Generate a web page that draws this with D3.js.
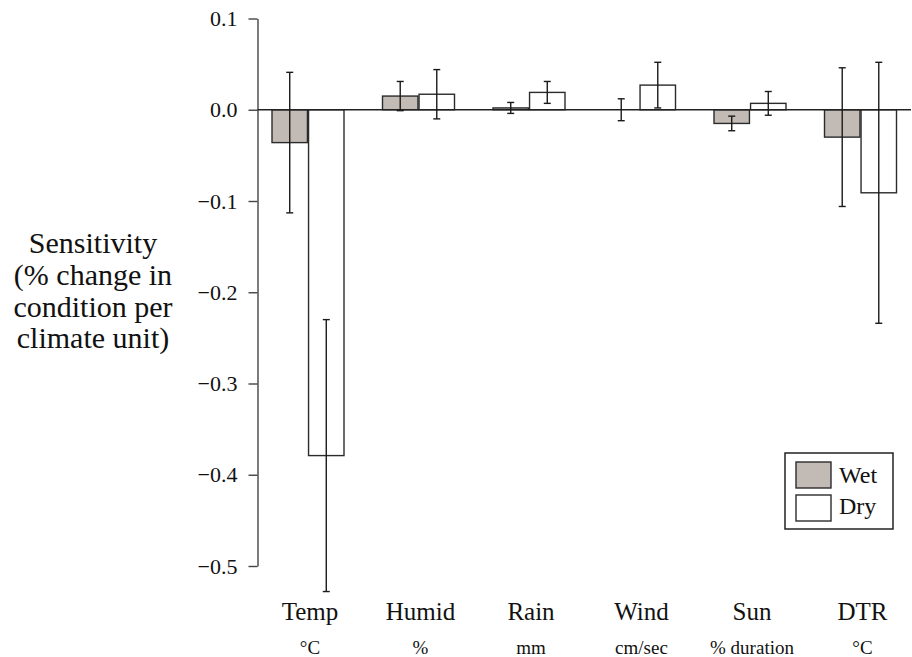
<!DOCTYPE html>
<html>
<head>
<meta charset="utf-8">
<script src="https://cdn.jsdelivr.net/npm/d3@7/dist/d3.min.js"></script>
<style>
  html, body { margin: 0; padding: 0; background: #fff; }
</style>
</head>
<body>
<svg id="chart" width="912" height="657"></svg>
<script>
// Climate variables and their units
const categories = ["Temp", "Humid", "Rain", "Wind", "Sun", "DTR"];
const units = ["\u00B0C", "%", "mm", "cm/sec", "% duration", "\u00B0C"];

// Sensitivity (% change in condition per climate unit) with error half-widths
const wetValues = [-0.036, 0.015, 0.002, 0.000, -0.015, -0.030];
const wetErrors = [0.077, 0.016, 0.006, 0.012, 0.008, 0.076];
const dryValues = [-0.379, 0.017, 0.019, 0.027, 0.007, -0.091];
const dryErrors = [0.149, 0.027, 0.012, 0.025, 0.013, 0.143];

const seriesNames = ["Wet", "Dry"];
const yTicks = [0.1, 0.0, -0.1, -0.2, -0.3, -0.4, -0.5];
const titleLines = ["Sensitivity", "(% change in", "condition per", "climate unit)"];

const serif = "'Liberation Serif'";
const svg = d3.select("#chart");

const y = d3.scaleLinear().domain([-0.5, 0.1]).range([566, 18.5]);
const x = d3.scaleBand().domain(categories).range([252.75, 915.75]).padding(0);
const xSub = d3.scaleBand().domain(seriesNames).range([-36, 36]).paddingInner(0.03);

const fills = { Wet: "#c2bab5", Dry: "#ffffff" };
const stroke = "#2b2b2b";

const rows = [];
categories.forEach((c, i) => {
  rows.push({ cat: c, series: "Wet", value: wetValues[i], err: wetErrors[i] });
  rows.push({ cat: c, series: "Dry", value: dryValues[i], err: dryErrors[i] });
});

// Y axis
const yAxis = d3.axisLeft(y)
  .tickValues(yTicks)
  .tickSize(9)
  .tickSizeOuter(0)
  .tickPadding(11)
  .tickFormat(d3.format(".1f"));

const gy = svg.append("g")
  .attr("transform", "translate(257.5,0)")
  .call(yAxis);
gy.select(".domain").attr("stroke", "#444").attr("stroke-width", 1.4);
gy.selectAll(".tick line").attr("stroke", "#444").attr("stroke-width", 1.4);
gy.selectAll(".tick text")
  .attr("fill", "#111")
  .style("font-family", serif)
  .style("font-size", "22px");

// Bars
svg.append("g").selectAll("rect")
  .data(rows)
  .join("rect")
  .attr("x", d => x(d.cat) + x.bandwidth() / 2 + xSub(d.series))
  .attr("width", xSub.bandwidth())
  .attr("y", d => Math.min(y(d.value), y(0)))
  .attr("height", d => Math.abs(y(d.value) - y(0)))
  .attr("fill", d => fills[d.series])
  .attr("stroke", stroke)
  .attr("stroke-width", 1.4);

// Zero line
svg.append("line")
  .attr("x1", 257.5).attr("x2", 911)
  .attr("y1", y(0)).attr("y2", y(0))
  .attr("stroke", "#222").attr("stroke-width", 1.5);

// Error bars
const eb = svg.append("g").attr("stroke", "#1a1a1a").attr("stroke-width", 1.4);
const cx = d => x(d.cat) + x.bandwidth() / 2 + xSub(d.series) + xSub.bandwidth() / 2;
eb.selectAll(".stem").data(rows).join("line")
  .attr("x1", cx).attr("x2", cx)
  .attr("y1", d => y(d.value + d.err)).attr("y2", d => y(d.value - d.err));
eb.selectAll(".capTop").data(rows).join("line")
  .attr("x1", d => cx(d) - 3.5).attr("x2", d => cx(d) + 3.5)
  .attr("y1", d => y(d.value + d.err)).attr("y2", d => y(d.value + d.err));
eb.selectAll(".capBot").data(rows).join("line")
  .attr("x1", d => cx(d) - 3.5).attr("x2", d => cx(d) + 3.5)
  .attr("y1", d => y(d.value - d.err)).attr("y2", d => y(d.value - d.err));

// Category labels and units
const lab = svg.append("g").attr("text-anchor", "middle").attr("fill", "#111");
lab.selectAll(".cat").data(categories).join("text")
  .attr("x", d => x(d) + x.bandwidth() / 2 + 2)
  .attr("y", 620)
  .style("font-family", serif)
  .style("font-size", "25px")
  .text(d => d);
lab.selectAll(".unit").data(categories).join("text")
  .attr("x", d => x(d) + x.bandwidth() / 2 + 2)
  .attr("y", 654)
  .style("font-family", serif)
  .style("font-size", "19px")
  .text((d, i) => units[i]);

// Y title
svg.append("g").attr("text-anchor", "middle").attr("fill", "#111")
  .selectAll("text").data(titleLines).join("text")
  .attr("x", 93)
  .attr("y", (d, i) => 253 + i * 31.8)
  .style("font-family", serif)
  .style("font-size", "30px")
  .text(d => d);

// Legend
const lg = svg.append("g");
lg.append("rect")
  .attr("x", 785).attr("y", 453).attr("width", 108).attr("height", 76)
  .attr("fill", "#fff").attr("stroke", "#222").attr("stroke-width", 1.5);
seriesNames.forEach((s, i) => {
  lg.append("rect")
    .attr("x", 796).attr("y", 462 + i * 33).attr("width", 35).attr("height", 26)
    .attr("fill", fills[s]).attr("stroke", stroke).attr("stroke-width", 1.4);
  lg.append("text")
    .attr("x", 839).attr("y", 483 + i * 31)
    .attr("fill", "#111")
    .style("font-family", serif)
    .style("font-size", "24px")
    .text(s);
});
</script>
</body>
</html>
